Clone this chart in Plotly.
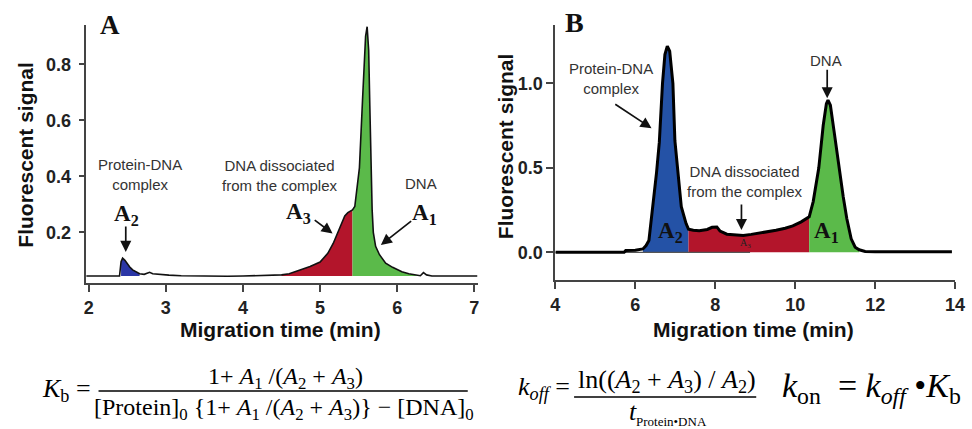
import plotly.graph_objects as go

# ---------------- data ----------------
# Panel A electropherogram (time in min, fluorescent signal)
A_TIME = [1.97, 2.40, 2.42, 2.44, 2.47, 2.50, 2.53, 2.57, 2.61, 2.66, 2.72, 2.76, 2.79, 2.83, 2.90,
          3.04, 3.20, 3.50, 3.80, 4.00, 4.20, 4.40, 4.50, 4.60, 4.74, 4.87, 5.00, 5.10, 5.17, 5.22,
          5.26, 5.32, 5.36, 5.42, 5.45, 5.51, 5.55, 5.57, 5.59, 5.61, 5.63, 5.645, 5.66, 5.675, 5.69,
          5.72, 5.77, 5.85, 5.94, 6.06, 6.15, 6.23, 6.30, 6.34, 6.38, 6.45, 7.04]
A_SIGNAL = [0.044, 0.044, 0.095, 0.108, 0.100, 0.088, 0.077, 0.066, 0.059, 0.052, 0.050, 0.055, 0.057, 0.052, 0.050,
            0.047, 0.045, 0.043, 0.043, 0.044, 0.045, 0.046, 0.048, 0.052, 0.065, 0.078, 0.094, 0.125, 0.160, 0.195,
            0.220, 0.258, 0.270, 0.280, 0.292, 0.430, 0.670, 0.790, 0.900, 0.934, 0.850, 0.650, 0.450, 0.280, 0.200,
            0.150, 0.120, 0.090, 0.075, 0.059, 0.052, 0.047, 0.045, 0.056, 0.048, 0.044, 0.044]
A_BASE = 0.044
A_REGIONS = {"A2": (2.42, 2.66), "A3": (4.50, 5.42), "A1": (5.42, 6.30)}

# Panel B electropherogram
B_TIME = [4.00, 5.72, 5.76, 6.00, 6.19, 6.27, 6.34, 6.44, 6.53, 6.60, 6.68, 6.74, 6.80, 6.86, 6.94,
          6.99, 7.06, 7.15, 7.27, 7.33, 7.45, 7.60, 7.80, 7.92, 8.04, 8.12, 8.29, 8.50, 8.70, 8.90,
          9.11, 9.30, 9.52, 9.75, 9.94, 10.15, 10.35, 10.45, 10.59, 10.70, 10.78, 10.82, 10.88, 10.97,
          11.09, 11.20, 11.29, 11.40, 11.50, 11.60, 11.75, 12.00, 13.92]
B_SIGNAL = [0.000, 0.000, 0.010, 0.012, 0.020, 0.040, 0.070, 0.270, 0.470, 0.650, 1.000, 1.170, 1.220, 1.190, 1.000,
            0.660, 0.470, 0.270, 0.170, 0.137, 0.130, 0.128, 0.135, 0.148, 0.150, 0.125, 0.107, 0.102, 0.100, 0.106,
            0.113, 0.120, 0.130, 0.142, 0.156, 0.180, 0.210, 0.300, 0.500, 0.750, 0.880, 0.900, 0.870, 0.720,
            0.500, 0.330, 0.200, 0.080, 0.030, 0.015, 0.005, 0.003, 0.003]
B_BASE = 0.0
B_ZERO_LINE_END = 8.87
B_REGIONS = {"A2": (6.19, 7.33), "A3": (7.33, 10.35), "A1": (10.35, 11.60)}

A_XTICKS = [2, 3, 4, 5, 6, 7]
A_YTICKS = [0.2, 0.4, 0.6, 0.8]
B_XTICKS = [4, 6, 8, 10, 12, 14]
B_YTICKS = [0.0, 0.5, 1.0]

# ---------------- styling ----------------
W, H = 972, 429
COL_A = {"A2": "#2b36a6", "A3": "#b3152b", "A1": "#5bba4a"}
COL_B = {"A2": "#2452a6", "A3": "#b3152b", "A1": "#5bba4a"}
SANS = "Liberation Sans, Arial, sans-serif"
SERIF = "Liberation Serif, Times New Roman, serif"
AXC = "#444444"


def fx(px):
    return px / W


def fy(py):
    return 1 - py / H


fig = go.Figure()


def add_regions(t, s, regions, colors, base, xa, ya):
    for key, (lo, hi) in regions.items():
        seg = [(ti, si) for ti, si in zip(t, s) if lo <= ti <= hi]
        xs = [p[0] for p in seg]
        ys = [p[1] for p in seg]
        fig.add_trace(go.Scatter(
            x=xs + xs[::-1], y=ys + [base] * len(xs), fill="toself",
            fillcolor=colors[key], line=dict(width=0), mode="lines",
            xaxis=xa, yaxis=ya, hoverinfo="skip", showlegend=False))


add_regions(A_TIME, A_SIGNAL, A_REGIONS, COL_A, A_BASE, "x", "y")
fig.add_trace(go.Scatter(x=A_TIME, y=A_SIGNAL, mode="lines",
                         line=dict(color="#111111", width=1.6),
                         xaxis="x", yaxis="y", showlegend=False))

add_regions(B_TIME, B_SIGNAL, B_REGIONS, COL_B, B_BASE, "x2", "y2")
fig.add_trace(go.Scatter(x=[B_TIME[0], B_ZERO_LINE_END], y=[B_BASE, B_BASE], mode="lines",
                         line=dict(color="#555555", width=1.2),
                         xaxis="x2", yaxis="y2", showlegend=False))
fig.add_trace(go.Scatter(x=B_TIME, y=B_SIGNAL, mode="lines",
                         line=dict(color="#000000", width=3),
                         xaxis="x2", yaxis="y2", showlegend=False))

tickfont = dict(family=SANS, size=18, color="#222222", weight="bold")


def axis(**kw):
    d = dict(showgrid=False, zeroline=False, showline=True, linecolor=AXC,
             linewidth=2, ticks="outside", tickcolor=AXC, tickwidth=1.5,
             ticklen=7, tickfont=tickfont, fixedrange=True, ticklabeloverflow="allow")
    d.update(kw)
    return d


fig.update_layout(
    width=W, height=H, margin=dict(l=0, r=0, t=0, b=0),
    paper_bgcolor="white", plot_bgcolor="white", showlegend=False,
    xaxis=axis(domain=[fx(82), fx(480)], range=[1.962, 7.042], tickvals=A_XTICKS, anchor="y"),
    yaxis=axis(domain=[fy(283), fy(25)], range=[0.019, 0.940], tickvals=A_YTICKS,
               tickformat=".1f", anchor="x", ticklen=5, ticklabelstandoff=4),
    xaxis2=axis(domain=[fx(559), fx(965)], range=[4, 14], tickvals=B_XTICKS, anchor="y2"),
    yaxis2=axis(domain=[fy(280), fy(25)], range=[-0.164, 1.345], tickvals=B_YTICKS,
                tickformat=".1f", anchor="x2"),
)

ann = []


def text(px, py, s, size, font=SANS, color="#333333", bold=False, xanchor="center", italic=False):
    ann.append(dict(x=fx(px), y=fy(py), xref="paper", yref="paper", text=s,
                    showarrow=False, xanchor=xanchor, yanchor="middle",
                    font=dict(family=font, size=size, color=color,
                              weight="bold" if bold else "normal",
                              style="italic" if italic else "normal")))


def arrow(xref, yref, x0, y0, x1, y1):
    ann.append(dict(x=x1, y=y1, ax=x0, ay=y0, xref=xref, yref=yref, axref=xref, ayref=yref,
                    text="", showarrow=True, arrowhead=2, arrowsize=1.3, arrowwidth=1.7,
                    arrowcolor="#111111"))


# panel letters
text(107, 25, "A", 27, SERIF, "#111111", True)
text(578, 23, "B", 28, SERIF, "#111111", True)

# axis titles
text(280, 329, "Migration time (min)", 21, SANS, "#111111", True)
text(760, 329, "Migration time (min)", 21, SANS, "#111111", True)
for px, py in [(20, 155), (508, 146)]:
    ann.append(dict(x=fx(px), y=fy(py), xref="paper", yref="paper", text="Fluorescent signal",
                    showarrow=False, textangle=-90, xanchor="center", yanchor="middle",
                    font=dict(family=SANS, size=21, color="#111111", weight="bold")))

# panel A labels
text(137, 174, "Protein-DNA<br>complex", 15)
text(279, 175, "DNA dissociated<br>from the complex", 15)
text(423, 183, "DNA", 15)
text(123, 215, "A<sub>2</sub>", 23, SERIF, "#111111", True)
text(298, 213, "A<sub>3</sub>", 23, SERIF, "#111111", True)
text(426, 214, "A<sub>1</sub>", 23, SERIF, "#111111", True)
arrow("x", "y", 2.481, 0.226, 2.481, 0.130)
arrow("x", "y", 4.911, 0.2475, 5.162, 0.196)
arrow("x", "y", 6.200, 0.244, 5.788, 0.155)

# panel B labels
text(615, 78, "Protein-DNA<br>complex", 15)
text(752, 181, "DNA dissociated<br>from the complex", 15)
text(834, 61, "DNA", 15)
text(676, 232, "A<sub>2</sub>", 23, SERIF, "#111111", True)
text(834, 232, "A<sub>1</sub>", 23, SERIF, "#111111", True)
text(752, 244, "A<sub>3</sub>", 10, SERIF, "#222222", False)
arrow("x2", "y2", 5.461, 0.882, 6.406, 0.734)
arrow("x2", "y2", 8.655, 0.292, 8.655, 0.132)
arrow("x2", "y2", 10.80, 1.089, 10.80, 0.911)

# formulas
text(62, 390, "<i>K</i><sub>b</sub> =", 26, SERIF, "#000000")
text(285, 378, "1+ <i>A</i><sub>1</sub> /(<i>A</i><sub>2</sub> + <i>A</i><sub>3</sub>)", 24, SERIF, "#000000")
text(283, 409, "[Protein]<sub>0</sub> {1+ <i>A</i><sub>1</sub> /(<i>A</i><sub>2</sub> + <i>A</i><sub>3</sub>)} − [DNA]<sub>0</sub>",
     24, SERIF, "#000000")
text(547, 388, "<i>k</i><sub><i>off</i></sub> =", 26, SERIF, "#000000")
text(672, 381, "ln((<i>A</i><sub>2</sub> + <i>A</i><sub>3</sub>) / <i>A</i><sub>2</sub>)", 26, SERIF, "#000000")
text(638, 411, "t", 26, SERIF, "#000000", italic=True)
text(677, 421, "Protein•DNA", 13, SERIF, "#000000")
text(787, 388, "<i>k</i><sub>on</sub> &nbsp;= <i>k</i><sub><i>off</i></sub> •<i>K</i><sub>b</sub>", 34, SERIF, "#000000",
     xanchor="left")

fig.update_layout(annotations=ann, shapes=[
    dict(type="line", xref="paper", yref="paper", x0=fx(95), x1=fx(470), y0=fy(391), y1=fy(391),
         line=dict(color="#000000", width=1.5)),
    dict(type="line", xref="paper", yref="paper", x0=fx(578), x1=fx(763), y0=fy(397), y1=fy(397),
         line=dict(color="#000000", width=1.5)),
])

fig.write_html("out.html", config={"displayModeBar": False},
               post_script="document.body.style.margin='0';document.body.style.padding='0';")
